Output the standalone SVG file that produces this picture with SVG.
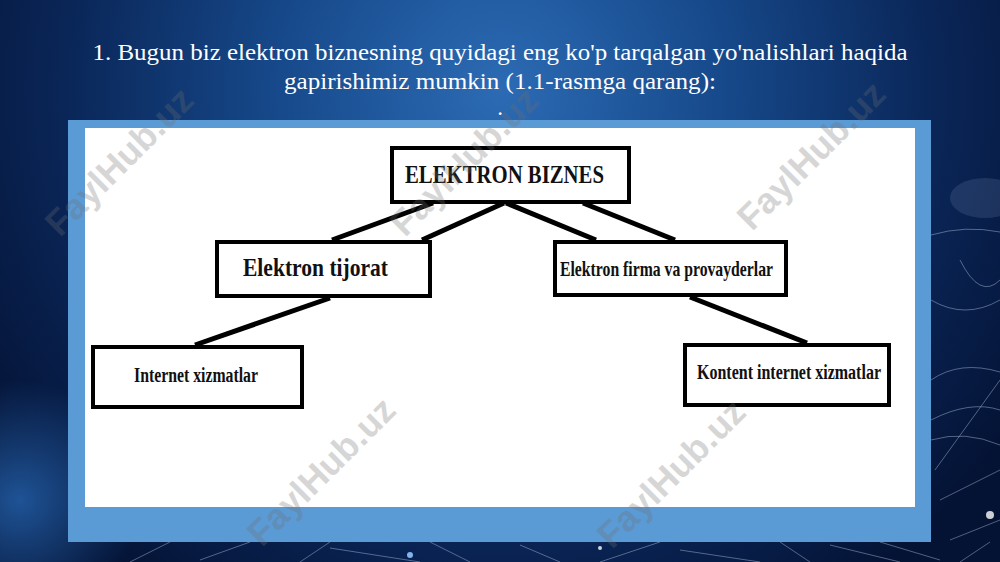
<svg xmlns="http://www.w3.org/2000/svg" width="1000" height="562" viewBox="0 0 1000 562">
<defs>
<radialGradient id="bg" cx="500" cy="90" r="620" gradientUnits="userSpaceOnUse">
<stop offset="0" stop-color="#2c6bb4"/>
<stop offset="0.35" stop-color="#174a8c"/>
<stop offset="0.7" stop-color="#0a2658"/>
<stop offset="1" stop-color="#041233"/>
</radialGradient>
<radialGradient id="glow" cx="20" cy="500" r="120" gradientUnits="userSpaceOnUse">
<stop offset="0" stop-color="#2a6fc0" stop-opacity="0.7"/>
<stop offset="1" stop-color="#2a6fc0" stop-opacity="0"/>
</radialGradient>
<style>
.title{font-family:"Liberation Serif","Times New Roman",serif;font-size:23px;fill:#ffffff;text-anchor:middle}
.box{fill:#ffffff;stroke:#000000;stroke-width:4}
.lbl{font-family:"Liberation Serif","Times New Roman",serif;font-weight:bold;fill:#111111}
.conn line{stroke:#000000;stroke-width:5;stroke-linecap:butt}
.net{stroke:#c8d6f0;stroke-width:1;fill:none;opacity:0.4}
.wm{font-family:"Liberation Sans",Arial,sans-serif;font-weight:bold;font-size:36px;fill:#6f6f6f;opacity:0.28}
</style>
</defs>
<rect x="0" y="0" width="1000" height="562" fill="url(#bg)"/>
<rect x="0" y="380" width="140" height="182" fill="url(#glow)"/>
<g id="network">
<path class="net" d="M130 562 L170 542 M200 560 L250 542 M300 562 L330 542 M330 548 L420 562 M430 542 L470 562 M520 545 L560 562 M600 562 L660 542 M680 550 L760 562 M780 542 L810 562 M830 545 L900 562 M880 542 L940 560 M960 562 L990 542"/>
<path class="net" d="M931 420 Q970 400 1000 410 M931 440 Q965 430 1000 445 M935 470 L1000 380 M940 500 L1000 470 M931 380 Q960 360 1000 372 M950 540 L1000 520 M931 300 Q965 320 1000 300 M960 260 Q980 300 1000 280 M931 235 Q965 225 1000 232"/>
<ellipse cx="985" cy="198" rx="35" ry="20" fill="#9fb6e0" opacity="0.15"/>
<circle cx="990" cy="515" r="4" fill="#ffffff" opacity="0.8"/>
<circle cx="410" cy="555" r="3" fill="#8fc3ff" opacity="0.9"/>
<circle cx="600" cy="548" r="2" fill="#ffffff" opacity="0.8"/>
</g>
<g id="title">
<text class="title" x="500" y="60" textLength="815" lengthAdjust="spacingAndGlyphs">1. Bugun biz elektron biznesning quyidagi eng ko'p tarqalgan yo'nalishlari haqida</text>
<text class="title" x="500" y="89" textLength="432" lengthAdjust="spacingAndGlyphs">gapirishimiz mumkin (1.1-rasmga qarang):</text>
<text class="title" x="500" y="115">.</text>
</g>
<rect id="frame" x="68" y="120" width="863" height="422" fill="#5b9bd5"/>
<rect id="canvas" x="85" y="128" width="830" height="379" fill="#ffffff"/>
<g id="connectors" class="conn">
<line x1="433" y1="203" x2="332" y2="240"/>
<line x1="504" y1="203" x2="422" y2="240"/>
<line x1="506" y1="203" x2="596" y2="240"/>
<line x1="583" y1="203" x2="675" y2="240"/>
<line x1="330" y1="298" x2="195" y2="345"/>
<line x1="690" y1="297" x2="807" y2="343"/>
</g>
<g id="node-elektron-biznes">
<rect class="box" x="392" y="148" width="237" height="54"/>
<text class="lbl" x="405" y="183" font-size="25" textLength="199" lengthAdjust="spacingAndGlyphs">ELEKTRON BIZNES</text>
</g>
<g id="node-elektron-tijorat">
<rect class="box" x="217" y="242" width="213" height="54"/>
<text class="lbl" x="243" y="276" font-size="25" textLength="145" lengthAdjust="spacingAndGlyphs">Elektron tijorat</text>
</g>
<g id="node-elektron-firma">
<rect class="box" x="555" y="242" width="231" height="53"/>
<text class="lbl" x="560" y="276" font-size="21" textLength="213" lengthAdjust="spacingAndGlyphs">Elektron firma va provayderlar</text>
</g>
<g id="node-internet-xizmatlar">
<rect class="box" x="93" y="347" width="209" height="60"/>
<text class="lbl" x="134" y="382" font-size="20" textLength="124" lengthAdjust="spacingAndGlyphs">Internet xizmatlar</text>
</g>
<g id="node-kontent-internet">
<rect class="box" x="685" y="345" width="204" height="60"/>
<text class="lbl" x="697" y="379" font-size="20" textLength="184" lengthAdjust="spacingAndGlyphs">Kontent internet xizmatlar</text>
</g>
<g id="watermarks">
<text class="wm" transform="translate(60,238) rotate(-45)">FaylHub.uz</text>
<text class="wm" transform="translate(405,238) rotate(-45)">FaylHub.uz</text>
<text class="wm" transform="translate(752,232) rotate(-45)">FaylHub.uz</text>
<text class="wm" transform="translate(262,548) rotate(-45)">FaylHub.uz</text>
<text class="wm" transform="translate(612,550) rotate(-45)">FaylHub.uz</text>
</g>
</svg>
